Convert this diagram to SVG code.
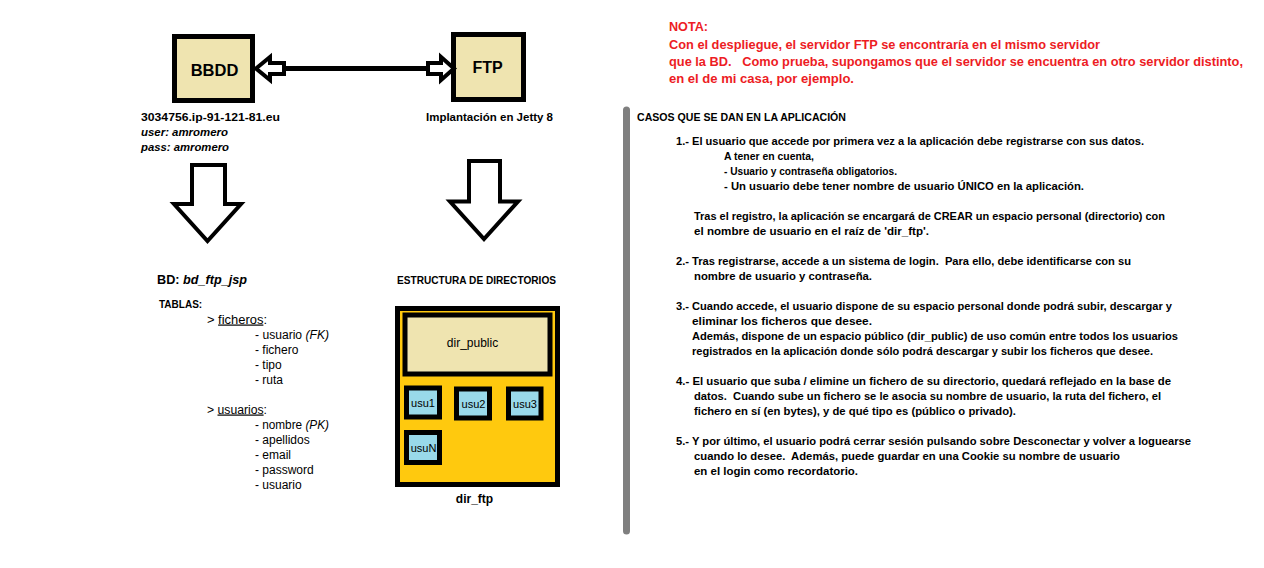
<svg xmlns="http://www.w3.org/2000/svg" width="1264" height="568" viewBox="0 0 1264 568">
<style>
text{font-family:"Liberation Sans",Arial,sans-serif;fill:#000}
.b{font-weight:bold}
.i{font-style:italic}
.red{fill:#ED1C24;font-weight:bold;font-size:12px}
.r{font-weight:bold;font-size:10.5px}
.item{font-size:12px}
.usu{font-size:11px}
.box{stroke:#000;stroke-width:5}
.tan{fill:#EFE4B0}
.blue{fill:#99D9EA}
.hollow{fill:#fff;stroke:#000;stroke-width:4;stroke-linejoin:miter}
</style>
<rect width="1264" height="568" fill="#fff"/>

<g id="bbdd">
<rect class="box tan" x="174.5" y="36.5" width="78" height="64"/>
<text class="b" x="214.5" y="76" font-size="16.5" text-anchor="middle">BBDD</text>
<text class="b" x="141" y="120.5" font-size="11" textLength="139" lengthAdjust="spacingAndGlyphs">3034756.ip-91-121-81.eu</text>
<text class="b i" x="141" y="135.5" font-size="11" textLength="87" lengthAdjust="spacingAndGlyphs">user: amromero</text>
<text class="b i" x="141" y="150.5" font-size="11" textLength="88" lengthAdjust="spacingAndGlyphs">pass: amromero</text>
</g>

<g id="ftp">
<rect class="box tan" x="453.5" y="34.5" width="70" height="65"/>
<text class="b" x="487.5" y="73" font-size="16" text-anchor="middle">FTP</text>
<text class="b" x="426" y="120.5" font-size="11" textLength="127" lengthAdjust="spacingAndGlyphs">Implantación en Jetty 8</text>
</g>

<g id="connectors">
<line x1="283" y1="68.5" x2="429" y2="68.5" stroke="#000" stroke-width="5"/>
<polygon class="hollow" points="256,68.5 270,57 270,63 284,63 284,74 270,74 270,80"/>
<polygon class="hollow" points="428,63 441,63 441,57 454,68.5 441,80 441,74 428,74"/>
<polygon class="hollow" points="192,165 225,165 225,204 241,204 207.5,241 174,204 192,204"/>
<polygon class="hollow" points="469,161 500,161 500,201.5 518,201.5 484,239 450,201.5 469,201.5"/>
</g>

<g id="bd">
<text class="b" x="157" y="284" font-size="12.5" textLength="90" lengthAdjust="spacingAndGlyphs">BD: <tspan class="i">bd_ftp_jsp</tspan></text>
<text class="b" x="159" y="308" font-size="10">TABLAS:</text>
<text class="item" x="207" y="323.5" textLength="60" lengthAdjust="spacingAndGlyphs">&gt; <tspan text-decoration="underline">ficheros</tspan>:</text>
<text class="item" x="255" y="338.5" textLength="74" lengthAdjust="spacingAndGlyphs">- usuario <tspan class="i">(FK)</tspan></text>
<text class="item" x="255" y="353.5">- fichero</text>
<text class="item" x="255" y="368.5">- tipo</text>
<text class="item" x="255" y="383.5">- ruta</text>
<text class="item" x="207" y="413.5" textLength="60" lengthAdjust="spacingAndGlyphs">&gt; <tspan text-decoration="underline">usuarios</tspan>:</text>
<text class="item" x="255" y="428.5" textLength="74" lengthAdjust="spacingAndGlyphs">- nombre <tspan class="i">(PK)</tspan></text>
<text class="item" x="255" y="443.5">- apellidos</text>
<text class="item" x="255" y="458.5">- email</text>
<text class="item" x="255" y="473.5">- password</text>
<text class="item" x="255" y="488.5">- usuario</text>
</g>

<g id="dir_ftp">
<text class="b" x="397" y="284" font-size="10" textLength="159" lengthAdjust="spacingAndGlyphs">ESTRUCTURA DE DIRECTORIOS</text>
<rect class="box" fill="#FFC90E" x="397.5" y="308.5" width="160" height="176"/>
<text class="b" x="474.5" y="503" font-size="12" text-anchor="middle">dir_ftp</text>
</g>
<g id="dir_public">
<rect class="box tan" x="405" y="315" width="145" height="59"/>
<text class="item" x="472.5" y="347" text-anchor="middle">dir_public</text>
</g>
<g id="usu1">
<rect class="box blue" x="406.5" y="388" width="33" height="29"/>
<text class="usu" x="423" y="406.5" text-anchor="middle">usu1</text>
</g>
<g id="usu2">
<rect class="box blue" x="456.5" y="389" width="33" height="29"/>
<text class="usu" x="473.5" y="407.5" text-anchor="middle">usu2</text>
</g>
<g id="usu3">
<rect class="box blue" x="508.5" y="389" width="32.5" height="29"/>
<text class="usu" x="525" y="407.5" text-anchor="middle">usu3</text>
</g>
<g id="usuN">
<rect class="box blue" x="406.5" y="432.5" width="33" height="30"/>
<text class="usu" x="423.5" y="451.5" text-anchor="middle">usuN</text>
</g>

<g id="nota">
<text class="red" x="669" y="31" textLength="39" lengthAdjust="spacingAndGlyphs">NOTA:</text>
<text class="red" x="669" y="49" textLength="431" lengthAdjust="spacingAndGlyphs">Con el despliegue, el servidor FTP se encontraría en el mismo servidor</text>
<text class="red" x="669" y="66" textLength="574" lengthAdjust="spacingAndGlyphs" xml:space="preserve">que la BD.   Como prueba, supongamos que el servidor se encuentra en otro servidor distinto,</text>
<text class="red" x="669" y="83" textLength="185" lengthAdjust="spacingAndGlyphs">en el de mi casa, por ejemplo.</text>
</g>

<g id="casos">
<line x1="626.5" y1="110" x2="626.5" y2="531" stroke="#7F7F7F" stroke-width="7" stroke-linecap="round"/>
<text class="r" x="637" y="121" textLength="209" lengthAdjust="spacingAndGlyphs">CASOS QUE SE DAN EN LA APLICACIÓN</text>
<text class="r" x="676" y="145" textLength="468" lengthAdjust="spacingAndGlyphs">1.- El usuario que accede por primera vez a la aplicación debe registrarse con sus datos.</text>
<text class="r" x="724" y="160" textLength="90" lengthAdjust="spacingAndGlyphs">A tener en cuenta,</text>
<text class="r" x="724" y="175" textLength="173" lengthAdjust="spacingAndGlyphs">- Usuario y contraseña obligatorios.</text>
<text class="r" x="724" y="190" textLength="360" lengthAdjust="spacingAndGlyphs">- Un usuario debe tener nombre de usuario ÚNICO en la aplicación.</text>
<text class="r" x="694" y="220" textLength="471" lengthAdjust="spacingAndGlyphs">Tras el registro, la aplicación se encargará de CREAR un espacio personal (directorio) con</text>
<text class="r" x="694" y="235" textLength="235" lengthAdjust="spacingAndGlyphs">el nombre de usuario en el raíz de 'dir_ftp'.</text>
<text class="r" x="676" y="265" textLength="455" lengthAdjust="spacingAndGlyphs" xml:space="preserve">2.- Tras registrarse, accede a un sistema de login.  Para ello, debe identificarse con su</text>
<text class="r" x="694" y="280" textLength="178" lengthAdjust="spacingAndGlyphs">nombre de usuario y contraseña.</text>
<text class="r" x="676" y="310" textLength="496" lengthAdjust="spacingAndGlyphs">3.- Cuando accede, el usuario dispone de su espacio personal donde podrá subir, descargar y</text>
<text class="r" x="692" y="325" textLength="180" lengthAdjust="spacingAndGlyphs">eliminar los ficheros que desee.</text>
<text class="r" x="692" y="340" textLength="486" lengthAdjust="spacingAndGlyphs">Además, dispone de un espacio público (dir_public) de uso común entre todos los usuarios</text>
<text class="r" x="692" y="355" textLength="461" lengthAdjust="spacingAndGlyphs">registrados en la aplicación donde sólo podrá descargar y subir los ficheros que desee.</text>
<text class="r" x="676" y="385" textLength="495" lengthAdjust="spacingAndGlyphs">4.- El usuario que suba / elimine un fichero de su directorio, quedará reflejado en la base de</text>
<text class="r" x="694" y="400" textLength="467" lengthAdjust="spacingAndGlyphs" xml:space="preserve">datos.  Cuando sube un fichero se le asocia su nombre de usuario, la ruta del fichero, el</text>
<text class="r" x="694" y="415" textLength="322" lengthAdjust="spacingAndGlyphs">fichero en sí (en bytes), y de qué tipo es (público o privado).</text>
<text class="r" x="676" y="445" textLength="515" lengthAdjust="spacingAndGlyphs">5.- Y por último, el usuario podrá cerrar sesión pulsando sobre Desconectar y volver a loguearse</text>
<text class="r" x="694" y="460" textLength="426" lengthAdjust="spacingAndGlyphs" xml:space="preserve">cuando lo desee.  Además, puede guardar en una Cookie su nombre de usuario</text>
<text class="r" x="694" y="475" textLength="164" lengthAdjust="spacingAndGlyphs">en el login como recordatorio.</text>
</g>
</svg>
